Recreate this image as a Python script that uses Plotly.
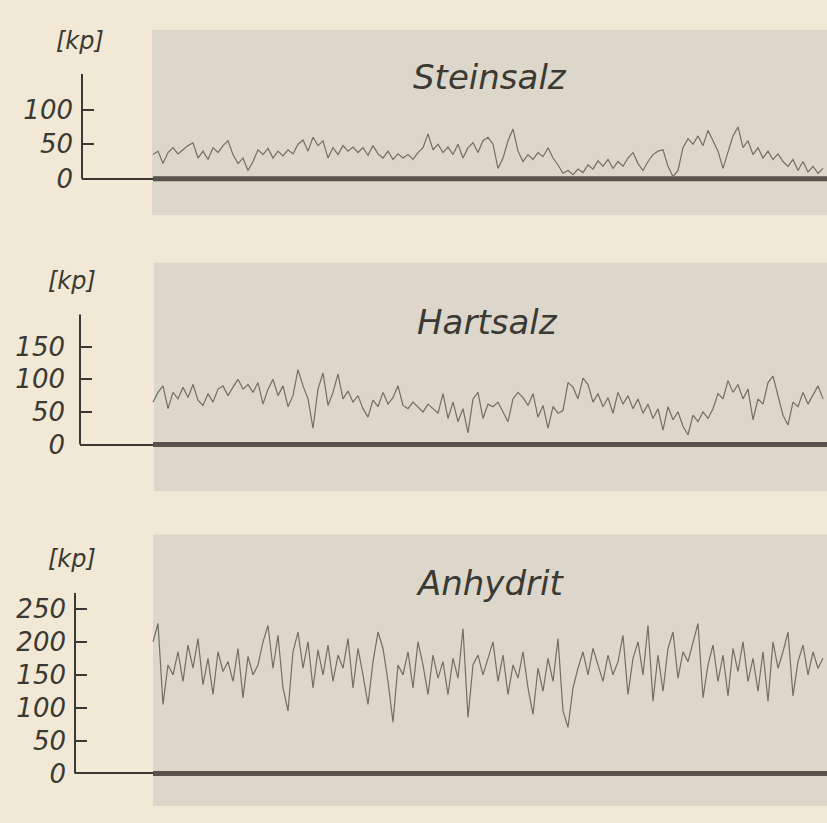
import plotly.graph_objects as go

# ---------------- data ----------------
titles = ["Steinsalz", "Hartsalz", "Anhydrit"]
unit_label = "[kp]"
tick_values = [[0, 50, 100], [0, 50, 100, 150], [0, 50, 100, 150, 200, 250]]
tick_labels = [["0", "50", "100"], ["0", "50", "100", "150"],
               ["0", "50", "100", "150", "200", "250"]]

steinsalz = [35, 40, 22, 38, 45, 36, 42, 48, 52, 30, 40, 28, 45, 38, 48, 55, 35, 22, 30, 12,
             25, 42, 35, 44, 30, 40, 33, 42, 36, 50, 56, 40, 60, 48, 55, 30, 45, 35, 48, 40,
             46, 38, 45, 34, 48, 36, 30, 40, 28, 36, 30, 35, 28, 38, 45, 65, 42, 50, 38, 46,
             35, 50, 30, 45, 52, 38, 55, 60, 50, 15, 30, 55, 72, 40, 25, 35, 28, 38, 32, 45,
             30, 20, 8, 12, 6, 14, 9, 20, 14, 26, 18, 28, 15, 25, 18, 30, 38, 22, 12, 25,
             35, 40, 42, 18, 3, 12, 45, 58, 50, 62, 48, 70, 55, 40, 15, 40, 62, 75, 45, 55,
             35, 45, 30, 40, 28, 36, 25, 18, 28, 12, 25, 10, 18, 8, 15]

hartsalz = [65, 80, 90, 55, 80, 70, 88, 72, 92, 68, 60, 78, 65, 85, 90, 75, 88, 100, 85, 92,
            80, 95, 62, 85, 100, 75, 90, 58, 75, 115, 90, 70, 25, 85, 110, 60, 80, 108, 70, 82,
            65, 75, 55, 42, 68, 58, 80, 62, 72, 90, 60, 55, 65, 58, 50, 62, 55, 48, 78, 40,
            65, 35, 55, 18, 70, 80, 40, 62, 58, 65, 50, 35, 70, 80, 72, 60, 78, 42, 60, 25,
            58, 48, 52, 95, 88, 70, 102, 92, 65, 78, 58, 72, 48, 80, 62, 75, 55, 70, 48, 62,
            40, 55, 22, 58, 38, 50, 28, 15, 45, 35, 50, 40, 55, 78, 70, 98, 80, 92, 70, 85,
            38, 70, 62, 95, 105, 75, 45, 30, 65, 58, 80, 62, 75, 90, 70]

anhydrit = [200, 228, 105, 165, 150, 185, 140, 195, 160, 205, 135, 175, 120, 185, 155, 170, 140, 190, 115, 178,
            150, 165, 200, 225, 160, 210, 130, 95, 185, 215, 160, 200, 130, 188, 150, 195, 140, 180, 160, 205,
            130, 190, 150, 105, 170, 215, 190, 140, 78, 165, 150, 185, 130, 200, 165, 120, 180, 145, 170, 120,
            175, 145, 220, 85, 165, 180, 150, 175, 200, 140, 180, 120, 165, 145, 185, 130, 90, 160, 125, 175,
            140, 205, 95, 70, 130, 160, 185, 150, 190, 165, 140, 180, 150, 170, 210, 120, 175, 200, 150, 225,
            110, 180, 125, 190, 215, 145, 185, 170, 200, 228, 115, 165, 195, 140, 180, 118, 190, 155, 200, 140,
            175, 125, 185, 110, 200, 160, 185, 215, 118, 170, 195, 150, 185, 160, 175]

series = [steinsalz, hartsalz, anhydrit]
samples = list(range(len(steinsalz)))
baseline = [0, 0]

# ---------------- layout geometry (pixels) ----------------
W, H = 827, 823
def fx(p):
    return p / W
def fy(p):
    return 1 - p / H

SAMPLE_PX = 5.0
SAMPLE_X0 = 153.0
panels = [
    dict(axis_x=82, top=75, zero=181, ppk=0.70, rect=(152, 30, 827, 218),
         title=(490, 78), unit=(80, 42), standoff=8),
    dict(axis_x=80, top=318, zero=450, ppk=0.66, rect=(154, 266, 827, 497),
         title=(487, 326), unit=(72, 284), standoff=14),
    dict(axis_x=75, top=600, zero=783, ppk=0.666, rect=(153, 541, 827, 816),
         title=(490, 590), unit=(72, 566), standoff=8),
]

BG = "#f1e9d5"
PANEL = "#dcd7ca"
INK = "#3b3933"
TRACE = "#706e66"
BASE = "#55534b"
FONT = "DejaVu Sans"

fig = go.Figure()
shapes = []
annotations = []
layout_axes = {}

for i, p in enumerate(panels):
    n = i + 1
    xa = "x" if n == 1 else f"x{n}"
    ya = "y" if n == 1 else f"y{n}"
    top_val = (p["zero"] - p["top"]) / p["ppk"]
    bottom_val = -8
    bottom_px = p["zero"] - bottom_val * p["ppk"]
    xr = [(p["axis_x"] - SAMPLE_X0) / SAMPLE_PX, (W - SAMPLE_X0) / SAMPLE_PX]

    # grey recording strip
    x0, y0, x1, y1 = p["rect"]
    shapes.append(dict(type="rect", xref="paper", yref="paper",
                       x0=fx(x0), x1=fx(x1), y0=fy(y1), y1=fy(y0),
                       fillcolor=PANEL, line=dict(width=0), layer="below"))
    # vertical axis line from 0 upward
    shapes.append(dict(type="line", xref=f"{xa} domain", yref=ya,
                       x0=0, x1=0, y0=0, y1=top_val,
                       line=dict(color=INK, width=2)))

    # baseline (zero line of the recorder)
    fig.add_trace(go.Scatter(x=[samples[0], samples[-1] + 0.8], y=baseline, mode="lines",
                             line=dict(color=BASE, width=5), xaxis=xa, yaxis=ya,
                             hoverinfo="skip", showlegend=False))
    # recorded force
    fig.add_trace(go.Scatter(x=samples, y=series[i], mode="lines",
                             line=dict(color=TRACE, width=1.2), xaxis=xa, yaxis=ya,
                             showlegend=False))

    key = "" if n == 1 else str(n)
    layout_axes[f"xaxis{key}"] = dict(domain=[fx(p["axis_x"]), 1], range=xr,
                                      showgrid=False, zeroline=False, showline=False,
                                      showticklabels=False, ticks="", fixedrange=True)
    layout_axes[f"yaxis{key}"] = dict(domain=[fy(bottom_px), fy(p["top"])],
                                      range=[bottom_val, top_val], anchor=xa,
                                      showgrid=False, showline=False,
                                      zeroline=True, zerolinecolor=INK, zerolinewidth=2,
                                      tickmode="array", tickvals=tick_values[i],
                                      ticktext=tick_labels[i], ticks="inside",
                                      ticklen=12, tickwidth=2, tickcolor=INK,
                                      ticklabelstandoff=p["standoff"],
                                      tickfont=dict(family=FONT, size=26, color=INK,
                                                    style="italic"))
    if n > 1:
        layout_axes[f"xaxis{key}"]["anchor"] = ya

    annotations.append(dict(text=titles[i], xref="paper", yref="paper",
                            x=fx(p["title"][0]), y=fy(p["title"][1]),
                            showarrow=False, xanchor="center", yanchor="middle",
                            font=dict(family=FONT, size=34, color=INK, style="italic")))
    annotations.append(dict(text=unit_label, xref="paper", yref="paper",
                            x=fx(p["unit"][0]), y=fy(p["unit"][1]),
                            showarrow=False, xanchor="center", yanchor="middle",
                            font=dict(family=FONT, size=24, color=INK, style="italic")))

fig.update_layout(width=W, height=H, autosize=False,
                  margin=dict(l=0, r=0, t=0, b=0, pad=0),
                  paper_bgcolor=BG, plot_bgcolor="rgba(0,0,0,0)",
                  shapes=shapes, annotations=annotations, **layout_axes)

fig.write_html("out.html", config={"displayModeBar": False},
               post_script="document.body.style.margin='0';document.body.style.background='" + BG + "';")
